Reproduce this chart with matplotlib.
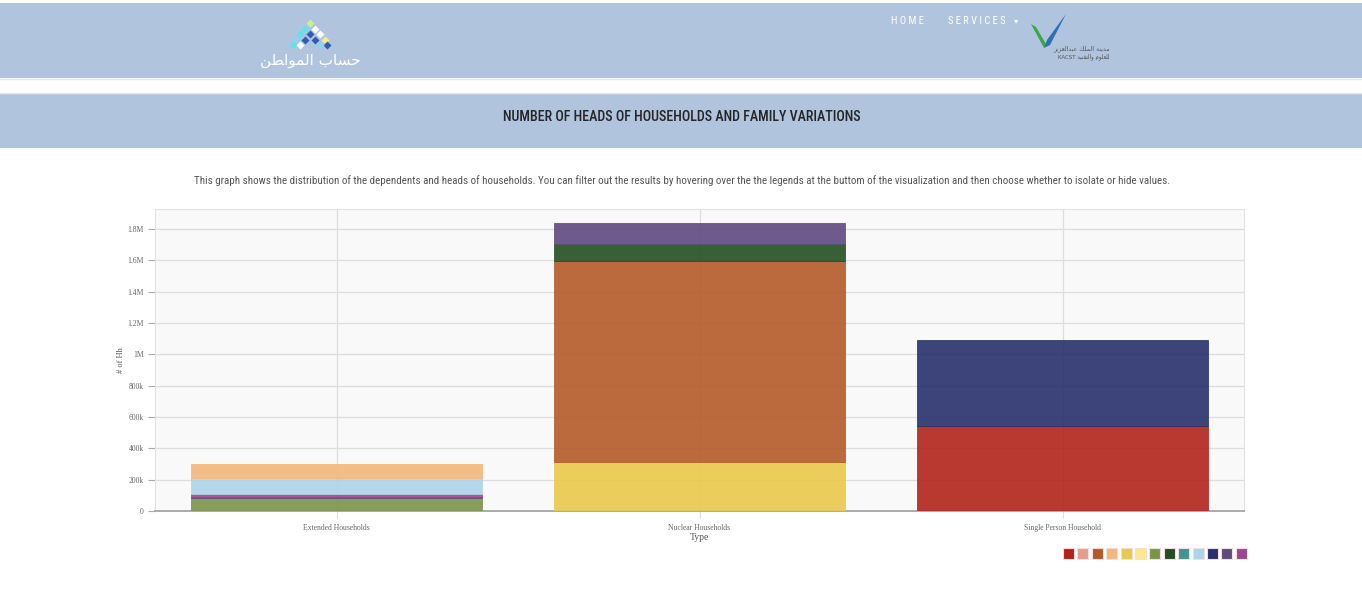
import numpy as np
import matplotlib.pyplot as plt
from matplotlib.patches import Rectangle, Polygon
from matplotlib.ticker import FuncFormatter
from matplotlib.font_manager import FontProperties, fontManager

# ---- data ----
categories = ['Extended Households', 'Nuclear Households', 'Single Person Household']

# stacked series, bottom to top; values per category
olive = [81000, 0, 0]
yellow = [0, 311000, 0]
brown = [0, 1287000, 0]
dark_green = [0, 106000, 0]
red = [0, 0, 545000]
purple = [8000, 134000, 0]
magenta = [18000, 0, 0]
light_blue = [105000, 0, 0]
light_orange = [86000, 0, 0]
navy = [0, 0, 545000]

series = [olive, yellow, brown, dark_green, red, purple, magenta,
          light_blue, light_orange, navy]
series_colors = ['#7a9447', '#e9c94a', '#b35a28', '#234f22', '#b2241a',
                 '#5f4a7f', '#9c4590', '#add4e8', '#f5b77a', '#27306b']

# legend swatches (as shown under the chart)
legend_colors = ['#b2241a', '#e89c8c', '#b35a28', '#f5b77a', '#e9c94a',
                 '#fde98c', '#7a9447', '#234f22', '#429490', '#add4e8',
                 '#27306b', '#5f4a7f', '#9c4590']

ytick_values = [0, 200000, 400000, 600000, 800000, 1000000,
                1200000, 1400000, 1600000, 1800000]

title = 'NUMBER OF HEADS OF HOUSEHOLDS AND FAMILY VARIATIONS'
description = ('This graph shows the distribution of the dependents and heads of households. '
               'You can filter out the results by hovering over the the legends at the buttom '
               'of the visualization and then choose whether to isolate or hide values.')


# ---- fonts: look for any condensed face, the page uses one ----
def find_condensed(target_weight=400):
    cands = []
    for f in fontManager.ttflist:
        st = str(f.stretch).lower()
        fn = f.fname.lower()
        if 'condensed' in st or 'condensed' in fn or 'narrow' in fn:
            if 'italic' in fn or f.style != 'normal':
                continue
            w = f.weight if isinstance(f.weight, int) else 400
            score = abs(w - target_weight) + (0 if 'extra' not in fn else 50)
            if 'noto sans' not in f.name.lower() and 'roboto' not in f.name.lower():
                score += 20
            cands.append((score, f.fname))
    if cands:
        cands.sort()
        return FontProperties(fname=cands[0][1])
    return FontProperties(family='Liberation Sans')


fp_reg = find_condensed(400)
fp_bold = find_condensed(550)
serif = 'Liberation Serif'

W, H = 1362, 598
fig = plt.figure(figsize=(W / 100, H / 100), dpi=100)
fig.patch.set_facecolor('white')
renderer = fig.canvas.get_renderer()


def fit_width(t, target_px):
    bb = t.get_window_extent(renderer)
    if bb.width > 0:
        t.set_fontsize(t.get_fontsize() * target_px / bb.width)


# page overlay in pixel coordinates
page = fig.add_axes([0, 0, 1, 1])
page.set_xlim(0, W)
page.set_ylim(H, 0)
page.axis('off')
page.set_zorder(0)

band = '#b0c4de'
page.add_patch(Rectangle((0, 3), W, 75, color=band, lw=0))
page.add_patch(Rectangle((0, 94), W, 54, color=band, lw=0))
page.plot([0, W], [79, 79], color='#e6e6e6', lw=1)
page.plot([0, W], [93, 93], color='#e6e6e6', lw=1)

# nav
t = page.text(891, 21, 'H O M E', color='white', fontproperties=fp_reg,
              fontsize=8, va='center', ha='left')
fit_width(t, 33)
t = page.text(948, 21, 'S E R V I C E S', color='white', fontproperties=fp_reg,
              fontsize=8, va='center', ha='left')
fit_width(t, 58)
page.text(1016, 21, '\u25BE', color='white', fontsize=6, va='center', ha='center')

# left logo: little diamonds
dots = [(310, 23, '#c9f28c'), (305, 28.5, '#5fe3e8'), (315, 28.5, '#ffffff'),
        (300, 34, '#5fe3e8'), (310, 34, '#2f5db5'), (320, 34, '#ffffff'),
        (295, 39.5, '#8fd3f0'), (305, 39.5, '#2f5db5'), (315, 39.5, '#2f5db5'),
        (325, 39.5, '#f1ec8c'), (293, 45, '#5fe3e8'), (327, 45, '#2f5db5'),
        (300, 45, '#ffffff'), (320, 45, '#8fd3f0')]
for x, y, c in dots:
    page.plot(x, y, marker='D', ms=4.0, color=c, mec='none')
page.text(310, 61, '\uFEE6\uFEC4\uFE8D\uFEEE\uFEE4\uFEDF\uFE8D \uFE8F\uFE8E\uFEB4\uFEA3',
          color='white', fontsize=11, family='DejaVu Sans', ha='center', va='center')

# right logo
page.add_patch(Polygon([(1031, 24), (1036, 27), (1046, 44), (1044, 48)],
                       closed=True, color='#3aa64a', lw=0))
page.add_patch(Polygon([(1044, 48), (1047, 40), (1066, 14), (1050, 45)],
                       closed=True, color='#2f6fb5', lw=0))
page.text(1110, 49, '\uFEB0\uFEF3\uFEB0\uFECC\uFEDF\uFE8D\uFEAA\uFE92\uFECB '
          '\uFEDA\uFEE0\uFEE4\uFEDF\uFE8D \uFE94\uFEE8\uFEF3\uFEAA\uFEE3',
          color='#555555', fontsize=4.5, family='DejaVu Sans', ha='right', va='center')
page.text(1110, 57, 'KACST \uFE94\uFEF4\uFEE8\uFED8\uFE98\uFEDF\uFE8D\uFEED '
          '\uFEE1\uFEEE\uFEE0\uFECC\uFEE0\uFEDF',
          color='#555555', fontsize=4.0, family='DejaVu Sans', ha='right', va='center')

# headings
t = page.text(682, 117, title, color='#262626', fontproperties=fp_bold,
              fontsize=11, ha='center', va='center')
fit_width(t, 358)
t = page.text(682, 181, description, color='#555555', fontproperties=fp_reg,
              fontsize=9, ha='center', va='center')
fit_width(t, 971)

# legend swatches
for i, c in enumerate(legend_colors):
    page.add_patch(Rectangle((1063 + i * 14.4, 547.5), 11, 11, facecolor=c,
                             edgecolor='#f0dede', lw=0.8))

# ---- chart ----
left, right, top, bottom = 155, 1244, 209, 511
ax = fig.add_axes([left / W, (H - bottom) / H, (right - left) / W, (bottom - top) / H])
ax.set_zorder(1)
ax.set_facecolor('#f9f9f9')

x = np.arange(len(categories))
base = np.zeros(len(categories))
for vals, c in zip(series, series_colors):
    vals = np.array(vals, dtype=float)
    lws = [0.6 if v > 0 else 0 for v in vals]
    ax.bar(x, vals, width=0.8, bottom=base, color=c, alpha=0.9,
           edgecolor=c, linewidth=lws, zorder=3)
    base += vals

ax.set_xlim(-0.5, 2.5)
ax.set_ylim(0, 1928000)
ax.set_yticks(ytick_values)


def fmt(v, pos):
    if v == 0:
        return '0'
    if v >= 1e6:
        return f'{v / 1e6:g}M'
    return f'{v / 1e3:g}k'


ax.yaxis.set_major_formatter(FuncFormatter(fmt))
ax.set_xticks(x)
ax.set_xticklabels(categories)
ax.grid(True, color='#dddddd', lw=0.9, zorder=0)
ax.set_axisbelow(True)

for s in ['top', 'right', 'left']:
    ax.spines[s].set_color('#e2e2e2')
    ax.spines[s].set_linewidth(0.8)
ax.spines['bottom'].set_color('#aaaaaa')
ax.spines['bottom'].set_linewidth(1.4)

ax.tick_params(axis='y', length=5, width=0.8, color='#aaaaaa', labelsize=5.5,
               labelcolor='#666666', pad=3)
ax.tick_params(axis='x', length=5, width=0.8, color='#dddddd', labelsize=5.5,
               labelcolor='#666666', pad=4)
for lab in ax.get_xticklabels() + ax.get_yticklabels():
    lab.set_family(serif)

ax.set_xlabel('Type', family=serif, fontsize=7, color='#555555', labelpad=1)
ax.set_ylabel('# of Hh', family=serif, fontsize=6, color='#555555', labelpad=2)

fig.savefig('out.png', dpi=100, facecolor='white')
